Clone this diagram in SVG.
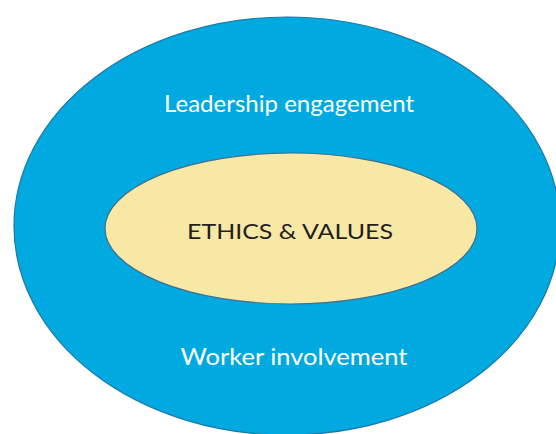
<svg xmlns="http://www.w3.org/2000/svg" width="556" height="434" viewBox="0 0 556 434">
<style>
.lbl{font-family:Lato,"Liberation Sans",sans-serif;text-anchor:middle}
.w{fill:#ffffff;font-size:23px}
.k{fill:#231f20;font-size:22px}
</style>
<rect width="556" height="434" fill="#ffffff"/>
<g id="outer">
<ellipse cx="287" cy="226" rx="273" ry="209" fill="#00aae0" stroke="#1b78a8" stroke-width="1.2"/>
<text class="lbl w" x="289" y="112" textLength="250" lengthAdjust="spacingAndGlyphs">Leadership engagement</text>
<text class="lbl w" x="294" y="364.5" textLength="227" lengthAdjust="spacingAndGlyphs">Worker involvement</text>
</g>
<g id="inner">
<ellipse cx="291" cy="228.5" rx="186" ry="75.5" fill="#f8e8a6" stroke="#3f6f8f" stroke-width="1.2"/>
<text class="lbl k" x="290" y="238.5" textLength="206" lengthAdjust="spacingAndGlyphs">ETHICS &amp; VALUES</text>
</g>
<g id="connectors"/>
</svg>
